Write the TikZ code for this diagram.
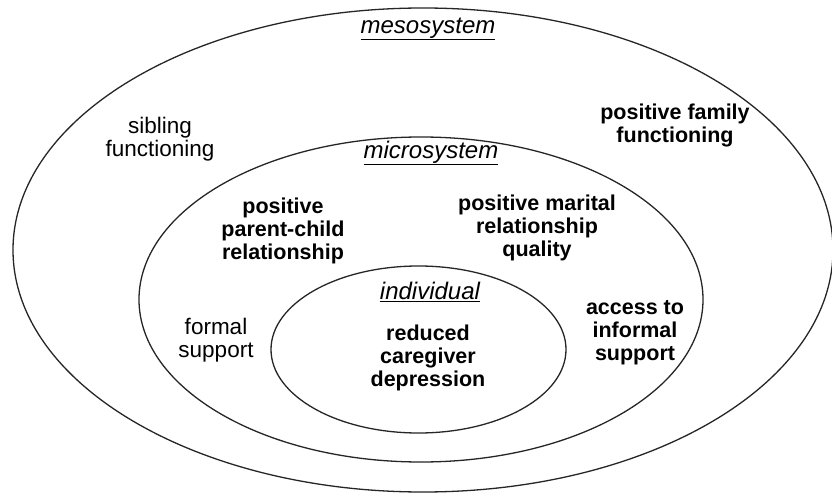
\documentclass[tikz,border=0pt]{standalone}
\usepackage{fontspec}
\setmainfont{Liberation Sans}
\begin{document}
\begin{tikzpicture}[x=1pt,y=-1pt,
  ring/.style={draw, line width=1.3pt, black!85},
  lbl/.style={align=center, font=\fontsize{22.5}{23}\selectfont, inner sep=0pt},
  blbl/.style={lbl, font=\fontsize{21.5}{23}\selectfont\bfseries},
  ttl/.style={lbl, font=\fontsize{24}{24}\selectfont\itshape}]
\useasboundingbox (0,0) rectangle (832,494);
\fill[white] (0,0) rectangle (832,494);
\draw[ring] (423,250) ellipse [x radius=410pt, y radius=242pt];
\draw[ring] (421,299.5) ellipse [x radius=282pt, y radius=162.5pt];
\draw[ring] (418.5,349.5) ellipse [x radius=147.5pt, y radius=83.5pt];
\node[ttl] (meso) at (428,29) {\underline{mesosystem}};
\node[ttl] (micro) at (431,153) {\underline{microsystem}};
\node[ttl] (indiv) at (430,292) {\underline{individual}};
\node[lbl] (sib) at (160,139) {sibling\\functioning};
\node[blbl] (fam) at (675,125) {positive family\\functioning};
\node[blbl] (pc) at (283,231) {positive\\parent-child\\relationship};
\node[blbl] (mar) at (537,228) {positive marital\\relationship\\quality};
\node[lbl] (form) at (216,340) {formal\\support};
\node[blbl] (acc) at (635,333) {access to\\informal\\support};
\node[blbl] (dep) at (428,358) {reduced\\caregiver\\depression};
\end{tikzpicture}
\end{document}
